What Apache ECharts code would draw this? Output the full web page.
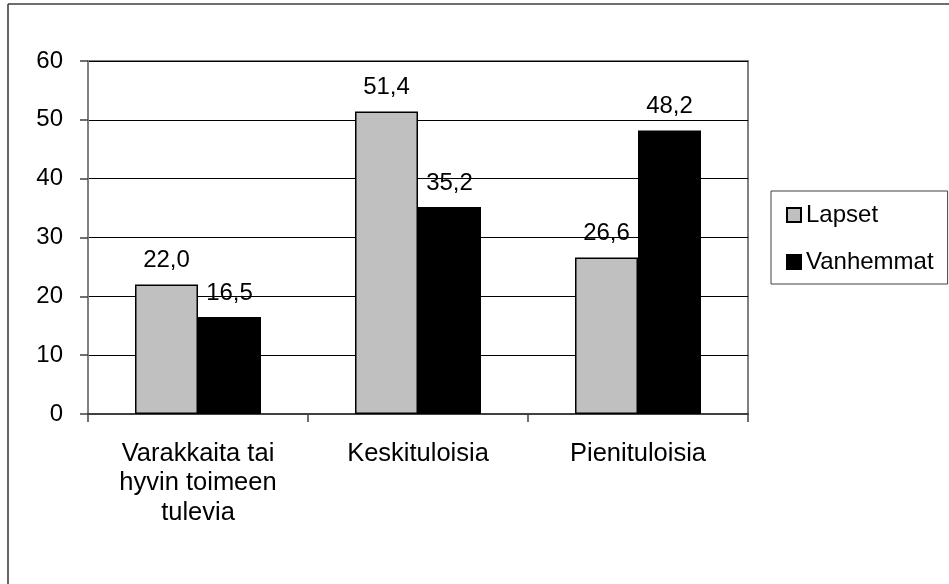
<!DOCTYPE html>
<html>
<head>
<meta charset="utf-8">
<script src="https://cdn.jsdelivr.net/npm/echarts@6/dist/echarts.min.js"></script>
<style>
html,body{margin:0;padding:0;background:#fff;}
#chart{width:949px;height:584px;}
</style>
</head>
<body>
<div id="chart"></div>
<script>
const categories = ['Varakkaita tai\nhyvin toimeen\ntulevia', 'Keskituloisia', 'Pienituloisia'];
const lapset = [22.0, 51.4, 26.6];
const vanhemmat = [16.5, 35.2, 48.2];
const seriesNames = ['Lapset', 'Vanhemmat'];

const FONT = '"Liberation Sans", Arial, sans-serif';
const fmt = p => p.value.toFixed(1).replace('.', ',');

const chart = echarts.init(document.getElementById('chart'), null, {renderer: 'canvas'});
chart.setOption({
  backgroundColor: '#fff',
  animation: false,
  textStyle: {fontFamily: FONT, color: '#000'},
  grid: {
    left: 88, right: 201, top: 61, bottom: 170,
    show: true, borderColor: '#808080', borderWidth: 2, backgroundColor: 'transparent'
  },
  legend: {
    orient: 'vertical',
    left: 771, top: 191,
    padding: [12, 14, 10, 15],
    itemGap: 23,
    itemWidth: 14, itemHeight: 14,
    icon: 'rect',
    borderColor: '#404040', borderWidth: 1,
    textStyle: {fontSize: 24, lineHeight: 24, color: '#000', fontFamily: FONT},
    data: seriesNames
  },
  xAxis: {
    type: 'category',
    data: categories,
    axisLine: {show: true, lineStyle: {color: '#404040', width: 2}},
    axisTick: {show: true, length: 8, lineStyle: {color: '#404040', width: 1.5}},
    axisLabel: {fontSize: 25.5, lineHeight: 29.5, margin: 25, interval: 0, color: '#000', fontFamily: FONT},
    splitLine: {show: false}
  },
  yAxis: {
    type: 'value',
    min: 0, max: 60, interval: 10,
    axisLine: {show: true, lineStyle: {color: '#808080', width: 2}},
    axisTick: {show: true, length: 8, lineStyle: {color: '#404040', width: 1.5}},
    axisLabel: {fontSize: 24, margin: 25, color: '#000', fontFamily: FONT},
    splitLine: {show: true, lineStyle: {color: '#000', width: 1}}
  },
  series: [
    {
      name: seriesNames[0], type: 'bar', data: lapset,
      barWidth: 63, barGap: '0%',
      itemStyle: {color: '#c0c0c0', borderColor: '#000', borderWidth: 1.5},
      label: {show: true, position: 'top', distance: 12, fontSize: 24, lineHeight: 24, color: '#000', fontFamily: FONT, formatter: fmt}
    },
    {
      name: seriesNames[1], type: 'bar', data: vanhemmat,
      barWidth: 63, barGap: '0%',
      itemStyle: {color: '#000', borderColor: '#000', borderWidth: 1.5},
      label: {show: true, position: 'top', distance: 12, fontSize: 24, lineHeight: 24, color: '#000', fontFamily: FONT, formatter: fmt}
    }
  ],
  graphic: [
    {type: 'line', shape: {x1: 8, y1: 4, x2: 949, y2: 4}, style: {stroke: '#6e6e6e', lineWidth: 2}, silent: true},
    {type: 'line', shape: {x1: 8, y1: 4, x2: 8, y2: 584}, style: {stroke: '#333', lineWidth: 1.5}, silent: true}
  ]
});
</script>
</body>
</html>
